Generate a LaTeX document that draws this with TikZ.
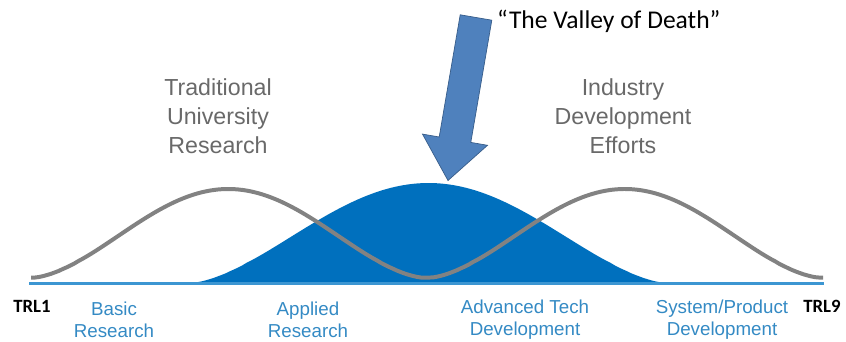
\documentclass[tikz,border=0pt]{standalone}
\usepackage{fontspec}
\setmainfont{Liberation Sans}
\newfontfamily\calibri{Carlito}
\usetikzlibrary{positioning}

\definecolor{fillblue}{RGB}{0,112,190}
\definecolor{lineblue}{RGB}{60,150,210}
\definecolor{textblue}{RGB}{52,138,196}
\definecolor{curvegray}{RGB}{130,130,130}
\definecolor{textgray}{RGB}{105,105,105}
\definecolor{arrowblue}{RGB}{79,129,189}
\definecolor{arrowedge}{RGB}{56,93,138}

\begin{document}
\begin{tikzpicture}[x=0.03cm, y=-0.03cm, every node/.style={align=center, inner sep=0pt},
  effort/.style={text=textgray, font=\fontsize{19.8pt}{24.6pt}\selectfont},
  phase/.style={text=textblue, font=\fontsize{16pt}{18.8pt}\selectfont},
  trl/.style={font=\calibri\bfseries\fontsize{16pt}{18pt}\selectfont}]
\useasboundingbox (0,0) rectangle (846,342);

% Curves
\fill[fillblue] (190,283) -- plot[domain=190:667, samples=120]
  (\x, {283-100*pow(max(0.002,(1+cos((\x-428.5)/238.5*180))/2),0.8)}) -- (667,283) -- cycle;
\draw[lineblue, line width=2pt] (29,283.5) -- (824,283.5);
\draw[curvegray, line width=3.4pt] plot[domain=31:823, samples=200]
  (\x, {278-89*pow(max(0.002,(1-cos((\x-30)/396.5*360))/2),0.85)});

% Arrow
\draw[arrowedge, fill=arrowblue, line width=0.6pt, line join=miter]
  (460.2,14.8) -- (491.8,20.2) -- (470.8,142.4) -- (487.5,145.3) -- (448,180.5)
  -- (422.5,134.1) -- (439.2,137) -- cycle;

% Labels
\node (valley)    [anchor=west] at (497,21) {\calibri\fontsize{21.8pt}{24pt}\selectfont “The Valley of Death”};
\node (univ)      [effort] at (218,116) {Traditional\\University\\Research};
\node (industry)  [effort] at (623,116) {Industry\\Development\\Efforts};

\node (trl1)      [trl] at (32,306)  {TRL1};
\node (trl9)      [trl] at (822,306) {TRL9};
\node (basic)     [phase] at (114,320) {Basic\\Research};
\node (applied)   [phase] at (308,320) {Applied\\Research};
\node (advanced)  [phase] at (525,320) {Advanced Tech\\Development};
\node (system)    [phase] at (722,320) {System/Product\\Development};

\end{tikzpicture}
\end{document}
